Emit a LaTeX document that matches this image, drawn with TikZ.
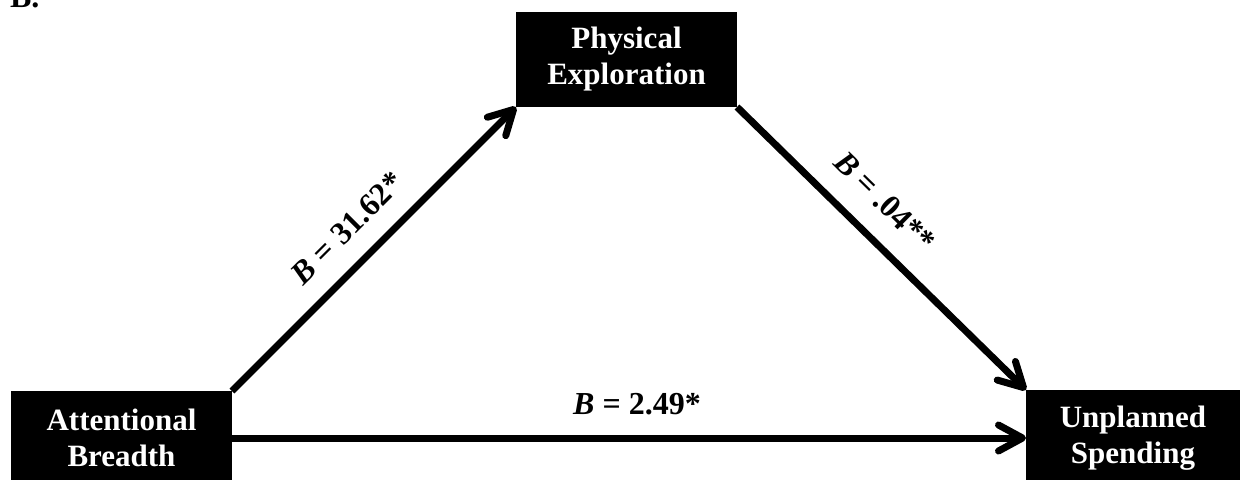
\documentclass[tikz,border=0pt]{standalone}
\usepackage{fontspec}
\setmainfont{Liberation Serif}
\usetikzlibrary{arrows.meta}
\begin{document}
\begin{tikzpicture}[x=1pt,y=-1pt,
  box/.style={fill=black, draw=none, text=white, font=\fontsize{31}{36}\selectfont\bfseries, align=center, inner sep=0pt, outer sep=0pt},
  link/.style={line width=7pt, -{Straight Barb[length=24pt,width=26pt,round]}},
  lbl/.style={font=\fontsize{32}{36}\selectfont\bfseries, inner sep=0pt, outer sep=0pt}]
\useasboundingbox (0,0) rectangle (1244,479);
\node[box, minimum width=221pt, minimum height=95pt] (P) at (626.5,59.5) {Physical\\Exploration};
\node[box, minimum width=221pt, minimum height=94pt] (A) at (121.5,438) {Attentional\\Breadth};
\node[box, minimum width=214pt, minimum height=96pt] (U) at (1133,438) {Unplanned\\Spending};
\node[lbl, anchor=base west] (panel) at (10,7) {B.};
\draw[link] (A.north east) -- (P.south west)
  node[lbl, sloped, pos=0.49, above=23pt] (la) {\textit{B} = 31.62*};
\draw[link] (P.south east) -- (U.north west)
  node[lbl, sloped, pos=0.425, above=25pt] (lb) {\textit{B} = .04**};
\draw[link] (A.east) -- (U.west)
  node[lbl, midway, above=23pt, xshift=8pt] (lc) {\textit{B} = 2.49*};
\end{tikzpicture}
\end{document}
